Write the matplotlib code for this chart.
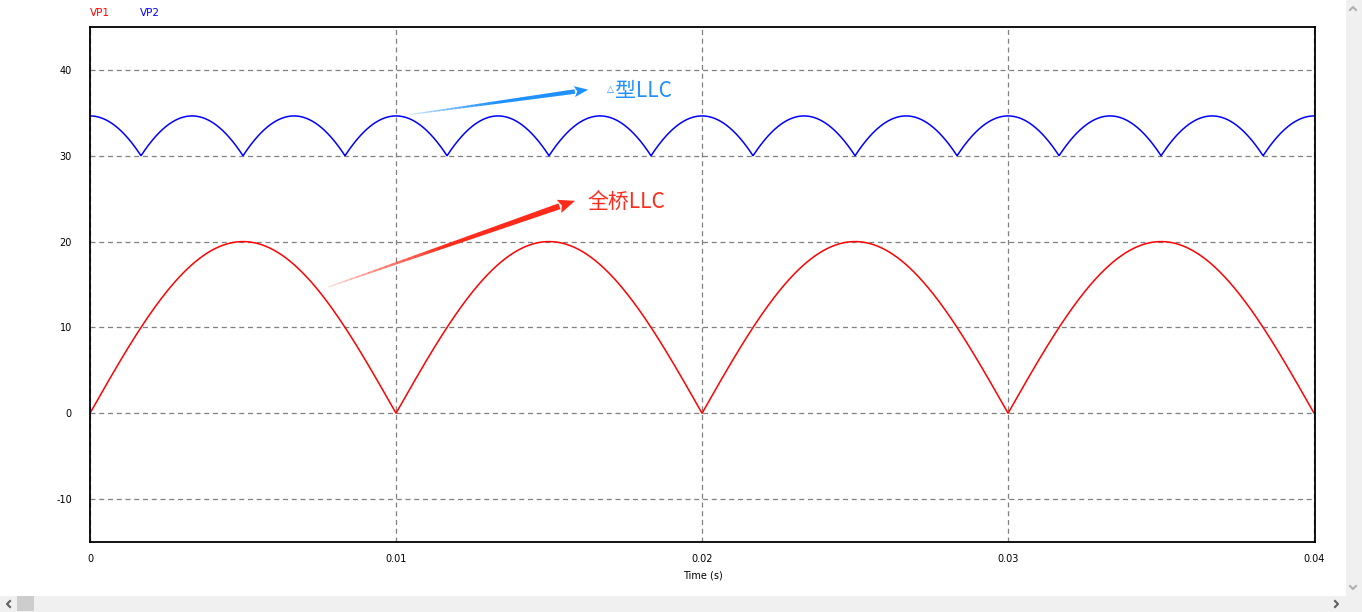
import numpy as np
from matplotlib import pyplot as plt
from matplotlib.patches import Polygon, Rectangle
from matplotlib.lines import Line2D

# waveform parameters
vp1_peak = 20.0          # full bridge LLC output peak (V)
vp2_peak = 34.64         # delta LLC output peak (V), valley ~30 V
line_freq = 50.0         # Hz
t_end = 0.04

x_ticks = [0, 0.01, 0.02, 0.03, 0.04]
x_tick_labels = ['0', '0.01', '0.02', '0.03', '0.04']
y_ticks = [-10, 0, 10, 20, 30, 40]
y_tick_labels = ['-10', '0', '10', '20', '30', '40']

W, H = 1362, 612
fig = plt.figure(figsize=(W / 100, H / 100), dpi=100)
fig.patch.set_facecolor('white')
ax = fig.add_axes([90 / W, 1 - 542 / H, (1315 - 90) / W, (542 - 27) / H])

t = np.linspace(0, t_end, 4001)
w = 2 * np.pi * line_freq
vp1 = vp1_peak * np.abs(np.sin(w * t))
vp2 = vp2_peak * np.max([np.abs(np.cos(w * t - k * np.pi / 3)) for k in range(3)], axis=0)

ax.plot(t, vp1, color='#ff0000', lw=1.1)
ax.plot(t, vp2, color='#0000ff', lw=1.1)

ax.set_xlim(0, 0.04003)
ax.set_ylim(-15, 45)
ax.set_xticks(x_ticks)
ax.set_xticklabels(x_tick_labels)
ax.set_yticks(y_ticks)
ax.set_yticklabels(y_tick_labels)
ax.tick_params(length=0, labelsize=7, colors='black')
ax.tick_params(axis='y', pad=13)
ax.tick_params(axis='x', pad=9)
ax.grid(True, color='#808080', ls=(0, (4, 3)), lw=0.9)
for s in ax.spines.values():
    s.set_linewidth(1.3)
ax.set_xlabel('Time (s)', fontsize=7, labelpad=4)

# legend labels at top left
fig.text(90 / W, 1 - 13 / H, 'VP1', color='#ff0000', fontsize=7.5, va='center', ha='left')
fig.text(140 / W, 1 - 13 / H, 'VP2', color='#0000ff', fontsize=7.5, va='center', ha='left')


def tapered_arrow(tail, tip, w0, w1, head_len, head_w, color, n=40):
    p0 = ax.transData.transform(tail)
    p1 = ax.transData.transform(tip)
    d = p1 - p0
    L = np.hypot(*d)
    u = d / L
    nrm = np.array([-u[1], u[0]])
    shaft = L - head_len
    for i in range(n):
        a = shaft * i / n
        b = shaft * (i + 1) / n + 0.5
        wa = w0 + (w1 - w0) * a / shaft
        wb = w0 + (w1 - w0) * min(b, shaft) / shaft
        pts = [p0 + u * a + nrm * wa / 2, p0 + u * b + nrm * wb / 2,
               p0 + u * b - nrm * wb / 2, p0 + u * a - nrm * wa / 2]
        alpha = 0.2 + 0.8 * min(1.0, (i / n) * 2.0)
        fig.patches.append(Polygon(pts, closed=True, fc=color, ec='none', alpha=alpha,
                                   transform=None, figure=fig))
    base = p0 + u * shaft
    head = [p1, base + nrm * head_w / 2, base + u * 3, base - nrm * head_w / 2]
    fig.patches.append(Polygon(head, closed=True, fc=color, ec='none', transform=None, figure=fig))


blue_txt = '#1e90ff'
red_txt = '#ff2a1a'
tapered_arrow((0.01046, 34.8), (0.01628, 37.7), 1.0, 4.5, 14, 11, blue_txt)
tapered_arrow((0.00778, 14.7), (0.01585, 24.75), 1.0, 6.0, 17, 14, red_txt)

cjk = ['Noto Sans CJK SC', 'DejaVu Sans']
ax.text(0.01690, 37.75, '\u25b3', color=blue_txt, fontsize=6.5, family='DejaVu Sans',
        va='center', ha='left')
ax.text(0.01716, 37.6, '型LLC', color=blue_txt, fontsize=15, family=cjk, va='center', ha='left')
ax.text(0.01624, 24.5, '全桥LLC', color=red_txt, fontsize=15, family=cjk, va='center', ha='left')

# window scrollbars
def px_rect(x0, y0, x1, y1, color):
    fig.patches.append(Rectangle((x0 / W, 1 - y1 / H), (x1 - x0) / W, (y1 - y0) / H,
                                 transform=fig.transFigure, fc=color, ec='none', figure=fig))

px_rect(1346, 0, W, 596, '#f0f0f0')
px_rect(0, 596, W, H, '#f0f0f0')
px_rect(17, 596, 34, 611, '#cdcdcd')

def px_line(xs, ys, color):
    fig.lines.append(Line2D([x / W for x in xs], [1 - y / H for y in ys], color=color, lw=1.5,
                            transform=fig.transFigure, figure=fig))

px_line([10, 7, 10], [601, 604, 607], '#606060')
px_line([1335, 1338, 1335], [601, 604, 607], '#606060')
px_line([1350, 1353, 1356], [10, 7, 10], '#b0b0b0')
px_line([1350, 1353, 1356], [586, 589, 586], '#b0b0b0')

fig.savefig('out.png', dpi=100)
